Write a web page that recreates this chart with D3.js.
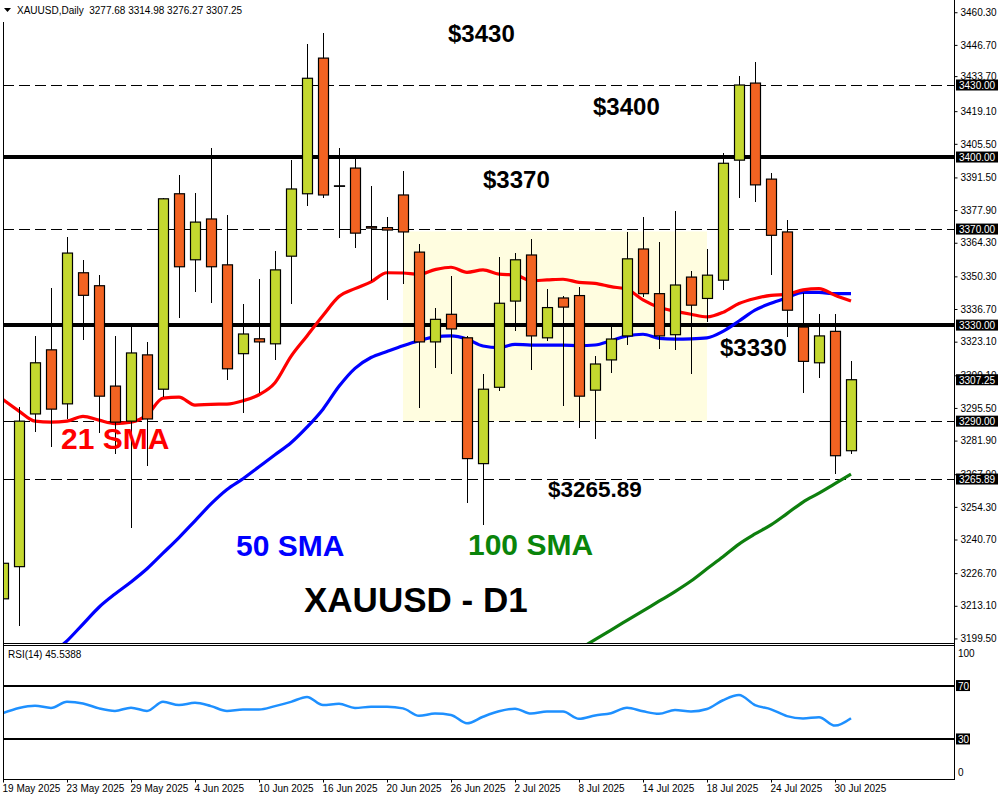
<!DOCTYPE html>
<html><head><meta charset="utf-8">
<script src="https://cdn.jsdelivr.net/npm/d3@7"></script>
<style>
body{margin:0;background:#fff}
svg{display:block}
text{font-family:"Liberation Sans",Arial,sans-serif}
</style>
</head><body>
<svg id="chart" width="1000" height="800"></svg>
<script>
// ---------------- DATA ----------------
const dateLabels = ["19 May 2025","23 May 2025","29 May 2025","4 Jun 2025","10 Jun 2025","16 Jun 2025","20 Jun 2025","26 Jun 2025","2 Jul 2025","8 Jul 2025","14 Jul 2025","18 Jul 2025","24 Jul 2025","30 Jul 2025"];
const dateTickIdx = [0,4,8,12,16,20,24,28,32,36,40,44,48,52];

const opens  = [3216,3229.4,3293.0,3319.7,3297.2,3351.8,3346.4,3304.6,3290.0,3317.6,3303.3,3384.7,3357.2,3374.2,3355.1,3318.1,3324.3,3322.2,3358.7,3384.7,3441.2,3388.0,3395.4,3371.0,3370.6,3384.2,3360.4,3323.0,3334.5,3324.7,3272.3,3304.1,3340.0,3359.2,3324.7,3341.3,3342.3,3302.9,3315.5,3325.5,3361.7,3343.1,3326.0,3350.0,3341.1,3348.7,3398.7,3430.8,3390.8,3368.8,3329.2,3314.3,3327.4,3277.68];
const highs  = [3249.8,3295.8,3325.5,3345.6,3366.6,3357.2,3350.7,3325.5,3329.6,3323.0,3383.0,3392.6,3385.2,3403.7,3376.0,3338.6,3349.3,3360.9,3398.7,3447.0,3451.7,3403.7,3399.5,3388.0,3374.9,3394.1,3363.8,3337.3,3350.5,3325.5,3309.5,3358.4,3360.0,3365.8,3345.2,3342.2,3346.0,3317.2,3329.3,3368.8,3375.0,3364.8,3377.6,3352.6,3361.7,3401.7,3433.8,3439.4,3393.5,3373.8,3343.2,3334.5,3334.5,3314.98];
const lows   = [3206,3204.5,3285.5,3279.4,3291.0,3323.8,3285.1,3276.4,3245.6,3271.5,3300.0,3332.9,3343.6,3339.1,3307.0,3293.4,3301.6,3315.6,3338.6,3379.5,3382.8,3366.1,3362.2,3348.5,3340.3,3347.2,3295.4,3312.0,3309.8,3256.0,3246.8,3302.4,3327.6,3311.5,3323.5,3296.2,3287.3,3282.7,3310.2,3321.9,3341.5,3320.0,3319.7,3309.5,3331.2,3344.7,3383.1,3381.1,3351.0,3325.0,3301.6,3307.9,3267.9,3276.27];
const closes = [3230.8,3290.0,3314.3,3295.0,3360.0,3342.4,3300.4,3289.6,3318.4,3290.9,3382.6,3354.3,3372.9,3354.3,3311.8,3326.3,3323.0,3353.0,3386.7,3432.8,3384.2,3388.0,3368.3,3370.4,3369.6,3368.8,3323.0,3332.4,3328.4,3274.4,3303.3,3339.1,3357.2,3325.5,3337.3,3337.5,3300.4,3313.8,3324.2,3357.6,3343.1,3325.5,3346.7,3338.3,3350.8,3397.4,3430.0,3388.4,3367.4,3336.2,3314.9,3325.5,3275.6,3307.25];

const sma21 = [3299,3294.2,3290,3289.6,3290,3292,3290.4,3289,3289.6,3292.5,3299.6,3300,3296.7,3297,3297.1,3298.5,3301,3306,3317,3325.5,3334,3341.9,3345.2,3348,3351.8,3351.7,3351.2,3353.1,3354.1,3352,3353,3351.2,3350.9,3348.5,3348.8,3349.1,3347.8,3347.4,3346,3344.9,3340.5,3337.4,3335.8,3334.5,3333.4,3335.3,3339,3341.1,3342.4,3342.8,3344.7,3345.2,3342.4,3340];
const sma50 = [null,null,null,3193,3198.5,3205.5,3212.5,3218,3223,3228.5,3235,3241.5,3248.5,3255.5,3261.5,3266,3271,3276,3281,3287.5,3295,3304.5,3312,3316.5,3319,3321.4,3323.5,3325.1,3325.5,3324.2,3321.3,3320.6,3322,3321.7,3321.7,3321.7,3321.4,3321.7,3323.5,3325.5,3326.2,3324.5,3324.2,3324.3,3324.7,3327.4,3331.7,3336.2,3339.1,3341.4,3343.6,3343.6,3343.1,3343.1];
const sma100 = [null,null,null,null,null,null,null,null,null,null,null,null,null,null,null,null,null,null,null,null,null,null,null,null,null,null,null,null,null,null,null,null,null,null,null,null,3195,3199,3203,3207,3211,3215,3219,3223.4,3228.5,3233.5,3238.8,3243,3246.8,3251.5,3256.3,3260,3264,3267.9];

const rsi = [49.3,53.2,54.9,53.2,57.8,56.6,52.9,51,53.4,51,57.8,55.4,57.1,54.6,51,52,52,54.6,57.8,61.5,55.4,56.3,53.2,54.1,54.1,52.9,47.3,49,48,41.7,46.6,50.7,52.7,49,50.5,50.5,45.1,47.6,49.3,53.4,50.7,48.8,51.7,50.5,52.4,59,62.9,55.4,52.2,47.1,45.4,46.3,40,45.54];

const priceTicks = [3460.30,3446.70,3433.70,3419.10,3405.50,3391.50,3377.90,3364.30,3350.30,3336.70,3323.10,3309.10,3295.50,3281.90,3267.90,3254.30,3240.70,3226.70,3213.10,3199.50];
const dashedLevels = [3430,3370,3290,3265.89];
const solidLevels = [3400,3330];
const priceBoxes = [3430,3400,3370,3330,3307.25,3290,3265.89];
const zoneRange = [3369, 3290];          // consolidation box prices
const zoneBars = [25, 44];               // bar indices spanning the box
const rsiLevels = [70,30];
const rsiLabels = [100,70,30,0];
const headerText = "XAUUSD,Daily  3277.68 3314.98 3276.27 3307.25";
const rsiText = "RSI(14) 45.5388";

// ---------------- LAYOUT ----------------
const svg = d3.select("#chart");
const L = 3, R = 954, T = 3, B = 643, RT = 645.5, RB = 779;
const x = d3.scaleLinear().domain([0, 53]).range([3, 851]);
const y = d3.scaleLinear().domain([3197.6, 3464.15]).range([B, T]);
const yr = d3.scaleLinear().domain([0, 100]).range([RB, RT]);
const GREEN = "#c4d82f", ORANGE = "#f26322";
const crisp = v => Math.round(v) + 0.5;

svg.append("rect").attr("width",1000).attr("height",800).attr("fill","#fff");

const defs = svg.append("defs");
defs.append("clipPath").attr("id","mainClip").append("rect").attr("x",L).attr("y",T).attr("width",R-L).attr("height",B-T);
defs.append("clipPath").attr("id","rsiClip").append("rect").attr("x",L).attr("y",RT).attr("width",R-L).attr("height",RB-RT);

const main = svg.append("g").attr("clip-path","url(#mainClip)");

// consolidation zone
main.append("rect")
  .attr("x", x(zoneBars[0]) ).attr("width", x(zoneBars[1]) - x(zoneBars[0]))
  .attr("y", y(zoneRange[0])).attr("height", y(zoneRange[1]) - y(zoneRange[0]))
  .attr("fill","#fffde0");

// level lines
main.selectAll("line.dash").data(dashedLevels).enter().append("line")
  .attr("x1",L).attr("x2",R).attr("y1",d=>crisp(y(d))).attr("y2",d=>crisp(y(d)))
  .attr("stroke","#000").attr("stroke-width",1).attr("stroke-dasharray","11,5")
  .attr("shape-rendering","crispEdges");
main.selectAll("line.solid").data(solidLevels).enter().append("line")
  .attr("x1",L).attr("x2",R).attr("y1",d=>Math.round(y(d))).attr("y2",d=>Math.round(y(d)))
  .attr("stroke","#000").attr("stroke-width",4).attr("shape-rendering","crispEdges");

// moving averages
function drawLine(g, data, color, w, yScale){
  const line = d3.line().defined(d=>d!=null).x((d,i)=>x(i)).y(d=>yScale(d)).curve(d3.curveMonotoneX);
  g.append("path").datum(data).attr("d",line).attr("fill","none").attr("stroke",color).attr("stroke-width",w).attr("stroke-linejoin","round");
}
drawLine(main, sma100, "#0e7f0e", 3.2, y);
drawLine(main, sma50, "#0000ff", 3.2, y);
drawLine(main, sma21, "#ff0000", 3.2, y);

// candles
const idx = d3.range(opens.length);
const cg = main.append("g");
cg.selectAll("line.wick").data(idx).enter().append("line")
  .attr("x1",i=>Math.round(x(i))+0.5).attr("x2",i=>Math.round(x(i))+0.5)
  .attr("y1",i=>y(highs[i])).attr("y2",i=>y(lows[i]))
  .attr("stroke","#000").attr("stroke-width",1).attr("shape-rendering","crispEdges");
cg.selectAll("rect.body").data(idx).enter().append("rect")
  .attr("x",i=>Math.round(x(i))-4.5).attr("width",10)
  .attr("y",i=>y(Math.max(opens[i],closes[i])))
  .attr("height",i=>Math.max(0.5, Math.abs(y(opens[i])-y(closes[i]))))
  .attr("fill",i=> closes[i]>opens[i] ? GREEN : (closes[i]<opens[i] ? ORANGE : "#000"))
  .attr("stroke","#000").attr("stroke-width",1.2);

// annotations
const ann = [
  {t:"$3430", x:448, y:42, s:24, c:"#000"},
  {t:"$3400", x:593, y:115, s:24, c:"#000"},
  {t:"$3370", x:483, y:188, s:24, c:"#000"},
  {t:"$3330", x:720, y:356, s:24, c:"#000"},
  {t:"$3265.89", x:548, y:497, s:22.5, c:"#000"},
  {t:"21 SMA", x:61, y:449, s:30, c:"#ff0000"},
  {t:"50 SMA", x:236, y:556, s:30, c:"#0000ff"},
  {t:"100 SMA", x:468, y:555, s:30, c:"#0a840a"},
  {t:"XAUUSD - D1", x:304, y:612, s:35, c:"#000"}
];
svg.selectAll("text.ann").data(ann).enter().append("text")
  .attr("x",d=>d.x).attr("y",d=>d.y).attr("font-size",d=>d.s).attr("font-weight","bold")
  .attr("fill",d=>d.c).text(d=>d.t);

// ---------------- RSI PANEL ----------------
const rg = svg.append("g").attr("clip-path","url(#rsiClip)");
rg.selectAll("line.lvl").data(rsiLevels).enter().append("line")
  .attr("x1",L).attr("x2",R).attr("y1",d=>Math.round(yr(d))).attr("y2",d=>Math.round(yr(d)))
  .attr("stroke","#000").attr("stroke-width",2).attr("shape-rendering","crispEdges");
drawLine(rg, rsi, "#1e90ff", 2.5, yr);
svg.append("text").attr("x",8).attr("y",658).attr("font-size",10).attr("fill","#000").text(rsiText);

// ---------------- FRAMES ----------------
const frame = svg.append("g").attr("stroke","#000").attr("shape-rendering","crispEdges");
frame.append("line").attr("x1",L+0.5).attr("x2",L+0.5).attr("y1",22).attr("y2",RB);
frame.append("line").attr("x1",L).attr("x2",R).attr("y1",B+0.5).attr("y2",B+0.5);
frame.append("line").attr("x1",L).attr("x2",R).attr("y1",RT).attr("y2",RT);
frame.append("line").attr("x1",L).attr("x2",R).attr("y1",RB+0.5).attr("y2",RB+0.5);
frame.append("line").attr("x1",R+0.5).attr("x2",R+0.5).attr("y1",0).attr("y2",RB+1);

// header
svg.append("path").attr("d","M4,8 L11,8 L7.5,12 Z").attr("fill","#000");
svg.append("text").attr("x",17).attr("y",14).attr("font-size",10).attr("fill","#000").style("white-space","pre").text(headerText);

// ---------------- AXES ----------------
const yAxis = d3.axisRight(y).tickValues(priceTicks).tickFormat(d3.format(".2f")).tickSize(3).tickPadding(3);
const ya = svg.append("g").attr("transform",`translate(${R+0.5},0)`).call(yAxis);
ya.select(".domain").remove();
ya.selectAll("text").attr("font-size",10).attr("font-family","Liberation Sans, Arial, sans-serif").attr("fill","#000");
ya.selectAll("line").attr("stroke","#000");

// price boxes
const pb = svg.selectAll("g.pbox").data(priceBoxes).enter().append("g").attr("transform",d=>`translate(${R+2},${y(d)})`);
pb.append("rect").attr("x",0).attr("y",-5.5).attr("width",42).attr("height",11).attr("fill","#000");
pb.append("text").attr("x",3).attr("y",4).attr("font-size",10).attr("fill","#fff").text(d=>d3.format(".2f")(d));

// rsi labels
const rl = svg.selectAll("g.rl").data(rsiLabels).enter().append("g")
  .attr("transform",d=>`translate(${R+4},${d===100? yr(d)+7 : d===0 ? yr(d)-7 : yr(d)})`);
rl.filter(d=>d===70||d===30).append("rect").attr("x",-2).attr("y",-5.5).attr("width",14).attr("height",11).attr("fill","#000");
rl.append("text").attr("x",0).attr("y",4).attr("font-size",10).attr("fill",d=>(d===70||d===30)?"#fff":"#000").text(d=>d);

// date axis
const xAxis = d3.axisBottom(x).tickValues(dateTickIdx).tickFormat((d,i)=>dateLabels[i]).tickSize(3).tickPadding(2);
const xa = svg.append("g").attr("transform",`translate(0,${RB+0.5})`).call(xAxis);
xa.select(".domain").remove();
xa.selectAll("text").attr("text-anchor","start").attr("dx",-1).attr("font-size",10).attr("font-family","Liberation Sans, Arial, sans-serif").attr("fill","#000");
xa.selectAll("line").attr("stroke","#000");
</script>
</body></html>
